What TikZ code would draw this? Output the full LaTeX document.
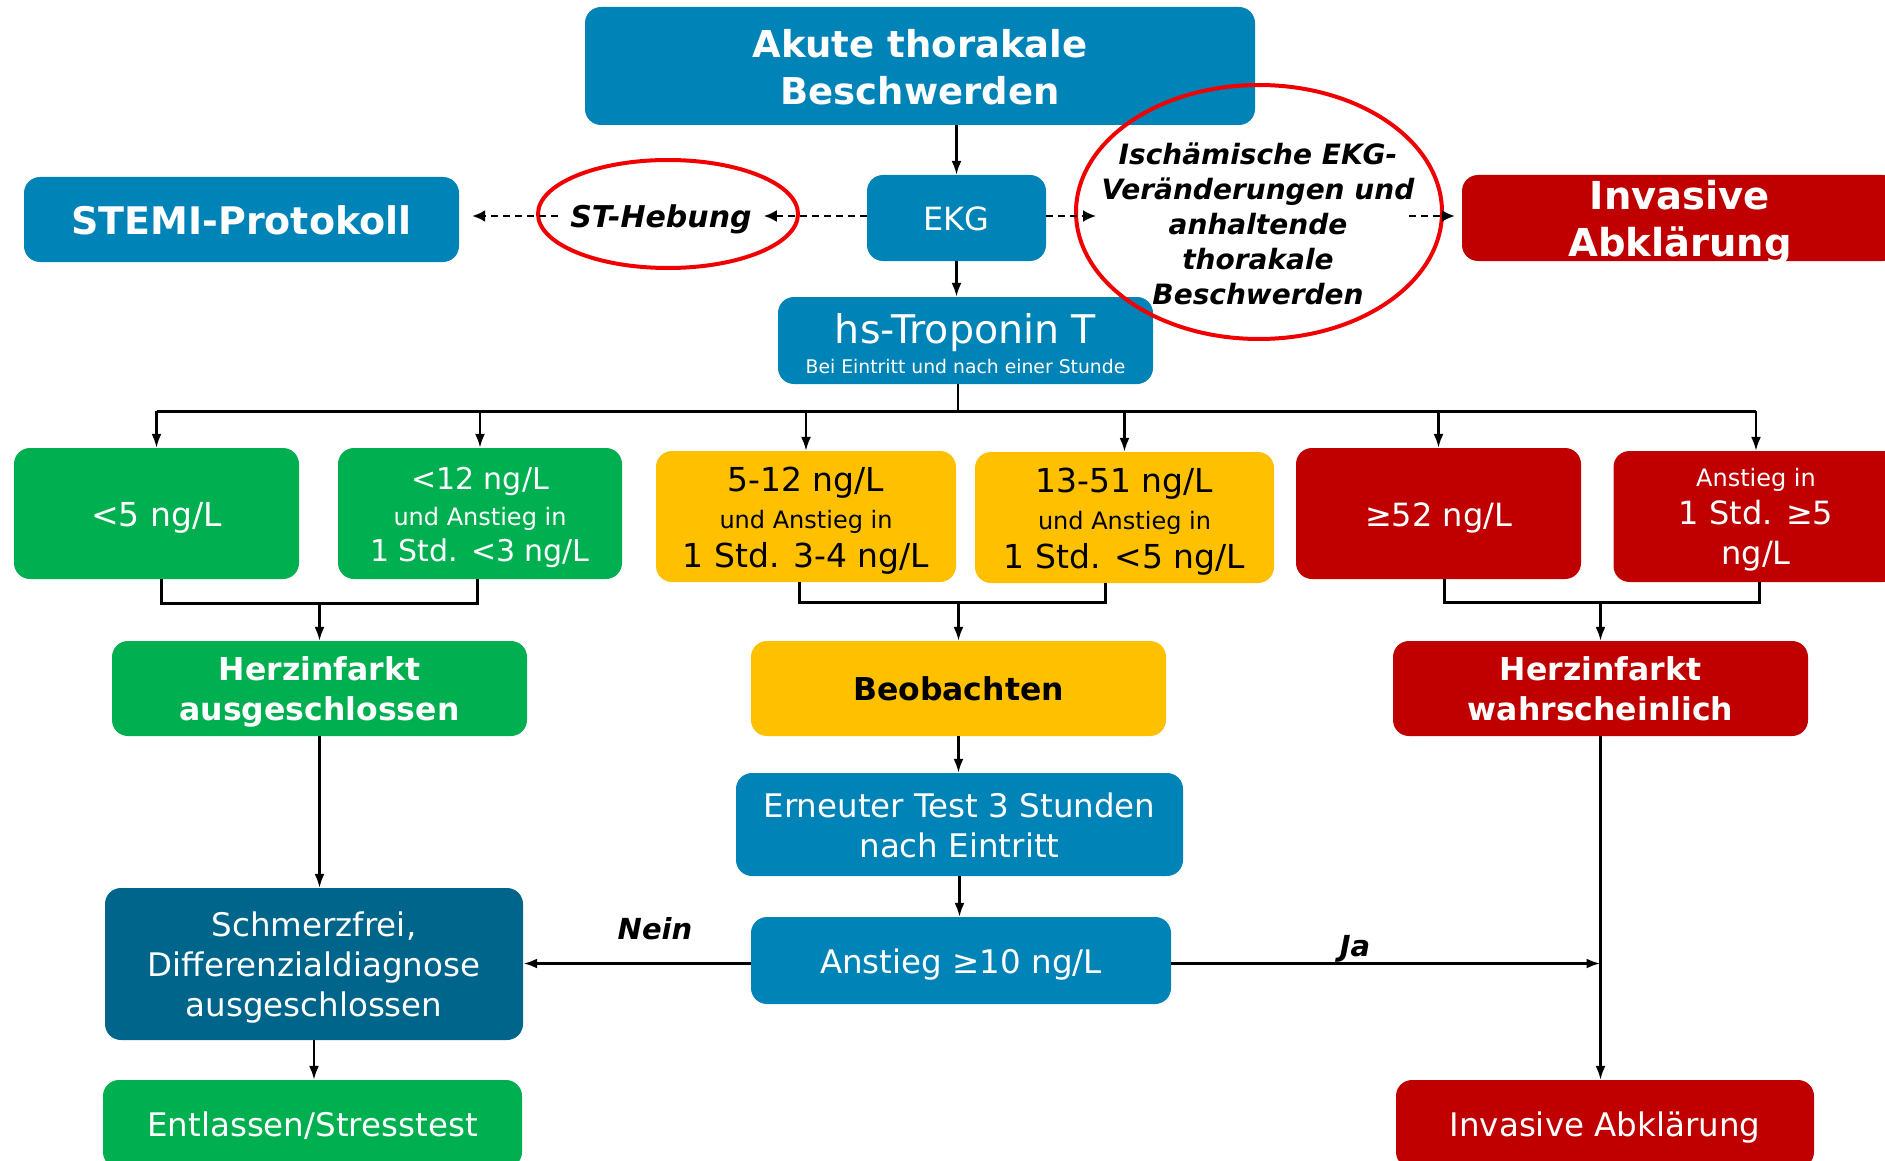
\documentclass[tikz,border=0pt]{standalone}
\usepackage{fontspec}
\setmainfont{DejaVu Sans}
\usetikzlibrary{arrows.meta,shapes.geometric,calc}
\definecolor{cblue}{HTML}{0083B6}
\definecolor{cdark}{HTML}{00658A}
\definecolor{cgreen}{HTML}{00B050}
\definecolor{cyellow}{HTML}{FFC000}
\definecolor{cred}{HTML}{C00000}
\definecolor{ered}{HTML}{F00000}
\newcommand\lnstrut{\rule[-0.21em]{0pt}{1.21em}}
\tikzset{
  box/.style={rounded corners=16pt, inner sep=0pt, align=center, text=white},
  mid/.style={font=\fontsize{31.5}{40}\selectfont\bfseries},
  reg/.style={font=\fontsize{32.5}{40}\selectfont},
  arr/.style={-{Latex[length=14pt,width=10pt]}, line width=2.3pt},
  darr/.style={-{Latex[length=13pt,width=12pt]}, line width=2.3pt, dash pattern=on 7pt off 5pt},
  bus/.style={line width=3pt},
  ring/.style={draw=ered, line width=4pt, ellipse, inner sep=0pt},
  lbl/.style={font=\fontsize{29}{35}\selectfont\bfseries\itshape, align=center, inner sep=0pt}
}
\begin{document}
\begin{tikzpicture}[x=1pt,y=-1pt]
\useasboundingbox (0,0) rectangle (1885,1161);
\clip (0,0) rectangle (1885,1161);

% top row
\node[box,fill=cblue,minimum width=670pt,minimum height=118pt,font=\fontsize{37}{47}\selectfont\bfseries] (top) at (920,66)
  {\lnstrut Akute thorakale\\\lnstrut Beschwerden};
\node[box,font=\fontsize{32}{40}\selectfont,fill=cblue,minimum width=179pt,minimum height=86pt] (ekg) at (956.5,218) {\lnstrut EKG};
\node[box,fill=cblue,minimum width=435pt,minimum height=85pt,font=\fontsize{38}{47}\selectfont\bfseries] (stemi) at (241.5,219.5) {\lnstrut STEMI-Protokoll};
\node[box,fill=cred,minimum width=436pt,minimum height=86pt,font=\fontsize{38.5}{47}\selectfont\bfseries,
  text height=81.5pt,text depth=4.3pt] (invtop) at (1680,218)
  {\lnstrut Invasive\\\lnstrut Abklärung};
\node[box,fill=cblue,minimum width=375pt,minimum height=87pt,font=\fontsize{39.5}{30}\selectfont] (hs) at (965.5,340.5)
  {\lnstrut hs-Troponin T\\{\fontsize{18.8}{30}\selectfont\lnstrut Bei Eintritt und nach einer Stunde}};

% second row
\node[box,fill=cgreen,minimum width=285pt,minimum height=131pt,font=\fontsize{33}{40}\selectfont] (b1) at (156.5,513.5) {\lnstrut <5 ng/L};
\node[box,fill=cgreen,minimum width=284pt,minimum height=131pt,font=\fontsize{30}{36}\selectfont] (b2) at (480,513.5)
  {\lnstrut <12 ng/L\\{\fontsize{24}{36}\selectfont\lnstrut und Anstieg in}\\\lnstrut 1 Std. <3 ng/L};
\node[box,fill=cyellow,text=black,minimum width=300pt,minimum height=131pt,font=\fontsize{33}{37}\selectfont] (b3) at (806,516.5)
  {\lnstrut 5-12 ng/L\\{\fontsize{24}{37}\selectfont\lnstrut und Anstieg in}\\\lnstrut 1 Std. 3-4 ng/L};
\node[box,fill=cyellow,text=black,minimum width=299pt,minimum height=131pt,font=\fontsize{33}{37}\selectfont] (b4) at (1124.5,517.5)
  {\lnstrut 13-51 ng/L\\{\fontsize{24}{37}\selectfont\lnstrut und Anstieg in}\\\lnstrut 1 Std. <5 ng/L};
\node[box,fill=cred,minimum width=285pt,minimum height=131pt,font=\fontsize{32}{40}\selectfont] (b5) at (1438.5,513.5) {\lnstrut ≥52 ng/L};
\node[box,fill=cred,minimum width=285pt,minimum height=131pt,font=\fontsize{32}{37}\selectfont] (b6) at (1756,516.5)
  {{\fontsize{24}{37}\selectfont\lnstrut Anstieg in}\\\lnstrut 1 Std. ≥5\\\lnstrut ng/L};

% third row
\node[box,mid,fill=cgreen,minimum width=415pt,minimum height=95pt] (ha) at (319.5,688.5) {\lnstrut Herzinfarkt\\\lnstrut ausgeschlossen};
\node[box,mid,fill=cyellow,text=black,minimum width=415pt,minimum height=95pt] (beo) at (958.5,688.5) {\lnstrut Beobachten};
\node[box,mid,fill=cred,minimum width=415pt,minimum height=95pt] (hw) at (1600.5,688.5) {\lnstrut Herzinfarkt\\\lnstrut wahrscheinlich};

% lower part
\node[box,reg,fill=cblue,minimum width=447pt,minimum height=103pt] (ern) at (959.5,824.5) {\lnstrut Erneuter Test 3 Stunden\\\lnstrut nach Eintritt};
\node[box,reg,fill=cblue,minimum width=420pt,minimum height=87pt] (anst) at (961,960.5) {\lnstrut Anstieg ≥10 ng/L};
\node[box,reg,fill=cdark,minimum width=418pt,minimum height=152pt] (schm) at (314,964)
  {\lnstrut Schmerzfrei,\\\lnstrut Differenzialdiagnose\\\lnstrut ausgeschlossen};
\node[box,reg,fill=cgreen,minimum width=419pt,minimum height=88pt] (entl) at (312.5,1124) {\lnstrut Entlassen/Stresstest};
\node[box,reg,fill=cred,minimum width=418pt,minimum height=88pt] (invbot) at (1605,1124) {\lnstrut Invasive Abklärung};

% rings and their texts
\node[ring,minimum width=260pt,minimum height=108pt] (ring1) at (668,214) {};
\node[ring,minimum width=366pt,minimum height=254pt] (ring2) at (1259,212) {};
\node[lbl,font=\fontsize{30}{35}\selectfont\bfseries\itshape,inner xsep=12pt] (sth) at (661,219) {ST-Hebung};
\node[lbl,font=\fontsize{28}{35}\selectfont\bfseries\itshape] (isch) at (1258,224)
  {Ischämische EKG-\\Veränderungen und\\anhaltende\\thorakale\\Beschwerden};
\coordinate (r2in) at (1096,216);
\coordinate (r2out) at (1409,216);

% dashed arrows
\draw[darr] (ekg.west |- r2in) -- (sth.east |- r2in);
\draw[darr, shorten >=13pt] (sth.west |- r2in) -- (stemi.east |- r2in);
\draw[darr] (ekg.east |- r2in) -- (r2in);
\draw[darr, shorten >=7pt] (r2out) -- (r2out -| invtop.west);

% solid connectors
\draw[arr] (ekg.north |- top.south) -- (ekg.north);
\draw[arr] (ekg.south) -- (ekg.south |- hs.north);
\coordinate (bus) at (958,411);
\draw[line width=2.3pt] (bus |- hs.south) -- (bus);
\draw[bus] (b1.north |- bus) -- (b6.north |- bus);
\foreach \n in {b1,b2,b3,b4,b5,b6}{
  \draw[arr] (\n.north |- bus) -- (\n.north);
}
% brackets
\draw[bus] (b1.south -| 161,0) -- (161,603) -- (477,603) -- (b2.south -| 477,0);
\draw[arr] (ha.north |- 0,603) -- (ha.north);
\draw[bus] (b3.south -| 799,0) -- (799,602) -- (1105,602) -- (b4.south -| 1105,0);
\draw[arr] (beo.north |- 0,602) -- (beo.north);
\draw[bus] (b5.south -| 1444,0) -- (1444,602) -- (1759,602) -- (b6.south -| 1759,0);
\draw[arr] (hw.north |- 0,602) -- (hw.north);

\draw[arr] (ha.south) -- (ha.south |- schm.north);
\draw[arr] (beo.south) -- (beo.south |- ern.north);
\draw[arr] (ern.south) -- (ern.south |- anst.north);
\draw[arr] (schm.south) -- (schm.south |- entl.north);
\draw[arr] (hw.south) -- (hw.south |- invbot.north);
\draw[arr, line width=3pt] ([yshift=-3pt]anst.west) -- ([yshift=-3pt]anst.west -| schm.east);
\draw[arr, line width=3pt] ([yshift=-3pt]anst.east) -- ([yshift=-3pt]anst.east -| hw.south);

\node[lbl] (nein) at (655,929) {Nein};
\node[lbl] (ja) at (1355,949) {Ja};
\end{tikzpicture}
\end{document}
